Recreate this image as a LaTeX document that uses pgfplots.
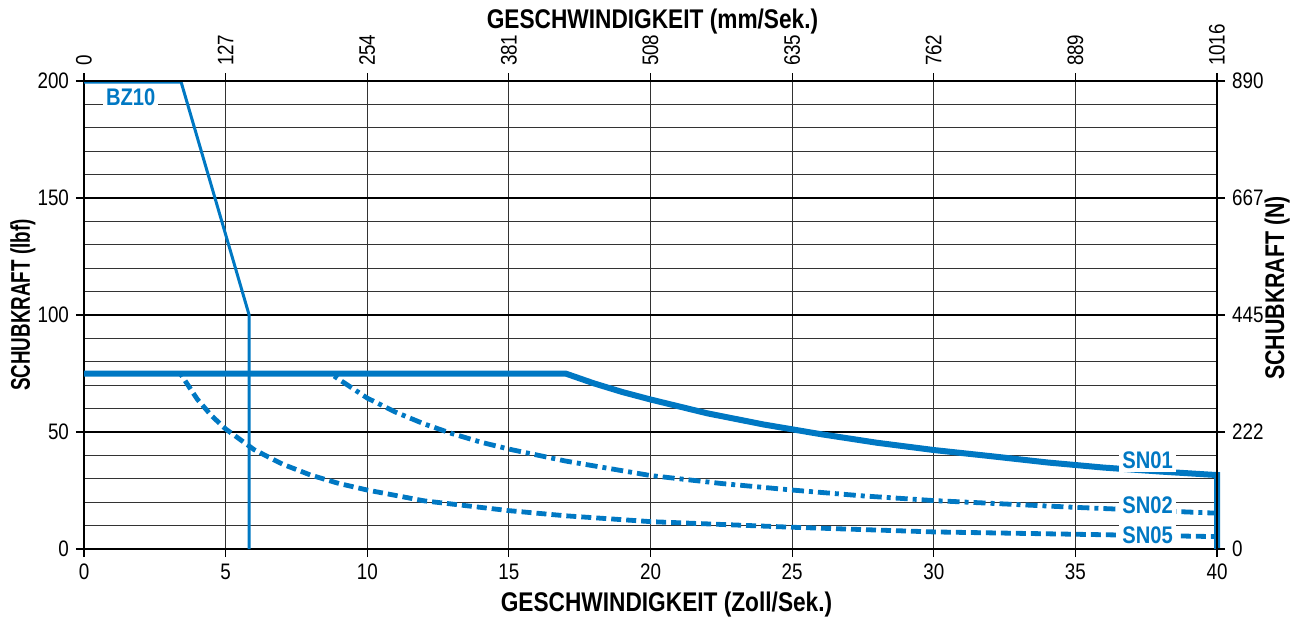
\documentclass[border=0pt]{standalone}
\usepackage{fontspec}
\setmainfont{Liberation Sans}[FakeStretch=0.84]
\usepackage{graphicx}
\usepackage{pgfplots}
\pgfplotsset{compat=1.18}
\usetikzlibrary{calc}

\definecolor{kurve}{RGB}{0,120,195}
\newcommand{\lf}{\bfseries\fontsize{13.5}{15}\selectfont}

\pgfplotsset{
  basis/.style={
    scale only axis, width=566.5pt, height=234pt,
    xmin=0, xmax=40, ymin=0, ymax=200,
    xtick={0,5,...,40}, ytick={0,50,...,200},
    tick align=outside, major tick length=4pt,
    every tick/.style={black, line width=0.6pt},
    axis line style={black, line width=1.4pt},
    tick label style={font=\fontsize{11.2}{13}\selectfont},
    /pgf/number format/assume math mode=true,
  },
}

\begin{document}
\begin{tikzpicture}
\begin{axis}[basis,
  tick pos=left,
  minor y tick num=4, minor tick length=0pt,
  xmajorgrids, ymajorgrids, yminorgrids,
  major x grid style={black!80, line width=0.6pt},
  major y grid style={black, line width=1.4pt},
  minor y grid style={black!80, line width=0.6pt},
  xlabel={GESCHWINDIGKEIT (Zoll/Sek.)},
  ylabel={\scalebox{0.83}[1]{SCHUBKRAFT (lbf)}},
  every axis x label/.style={at={(rel axis cs:0.5,0)}, anchor=center, xshift=8pt, yshift=-28pt, font=\lf},
  every axis y label/.style={at={(rel axis cs:0,0.5)}, anchor=center, xshift=-30.5pt, yshift=5pt, rotate=90, font=\lf},
  clip=false,
]
\coordinate (sw) at (rel axis cs:0,0);
\coordinate (ne) at (rel axis cs:1,1);

% BZ10
\addplot[kurve, line width=1.5pt] coordinates {
(0,199.5) (3.43,199.5) (5.83,100) (5.83,0)
};
% SN01
\addplot[kurve, line width=3pt] coordinates {
(0,75) (17,75) (18,70.8) (19,67.1) (20,63.9) (22,58.0) (24,53.2)
(26,49.1) (28,45.4) (30,42.3) (32,39.7) (34,37.0) (36,34.8)
(38,33.1) (40,31.6) (40,0)
};
% SN02
\addplot[kurve, line width=2.4pt, dash pattern=on 6pt off 2.5pt on 2pt off 2.5pt] coordinates {
(0,75) (8.7,75) (9,72.5) (10,64.5) (11,58.5) (12,53.5) (13,49.3)
(14,45.7) (15,42.7) (17,37.6) (20,31.4) (22.5,28.0) (25,25.2)
(27.5,22.7) (30,20.7) (35,17.8) (40,15.3)
};
% SN05
\addplot[kurve, line width=2.4pt, dash pattern=on 5pt off 2.5pt] coordinates {
(0,75) (3.4,75) (4,64) (4.5,57) (5,51.3) (6,42.5) (7,36.3) (8,31.6)
(9,28) (10,25.2) (12,20.6) (15,16.4) (17,14.2) (20,11.7) (25,9.3)
(30,7.3) (35,6.3) (40,5.3)
};

\tikzset{kl/.style={fill=white, text=kurve, inner sep=1.5pt,
  font=\bfseries\fontsize{12}{14}\selectfont}}
\node[kl] at (axis cs:1.65,193) {BZ10};
\node[kl] at (axis cs:37.55,38) {SN01};
\node[kl] at (axis cs:37.55,18.8) {SN02};
\node[kl] at (axis cs:37.55,6.0) {SN05};
\end{axis}

\begin{axis}[basis,
  axis x line*=top, axis y line*=right,
  xticklabels={0,127,254,381,508,635,762,889,1016},
  yticklabels={0,222,445,667,890},
  x tick label style={rotate=90, anchor=west},
  xlabel={GESCHWINDIGKEIT (mm/Sek.)},
  ylabel={\scalebox{0.94}[1]{SCHUBKRAFT (N)}},
  every axis x label/.style={at={(rel axis cs:0.5,1)}, anchor=center, xshift=1pt, yshift=29.5pt, font=\lf},
  every axis y label/.style={at={(rel axis cs:1,0.5)}, anchor=center, xshift=30pt, yshift=13.5pt, rotate=90, font=\lf},
]
\end{axis}

\pgfresetboundingbox
\path ($(sw)+(-42pt,-37pt)$) rectangle ($(ne)+(46pt,40.5pt)$);
\end{tikzpicture}
\end{document}
